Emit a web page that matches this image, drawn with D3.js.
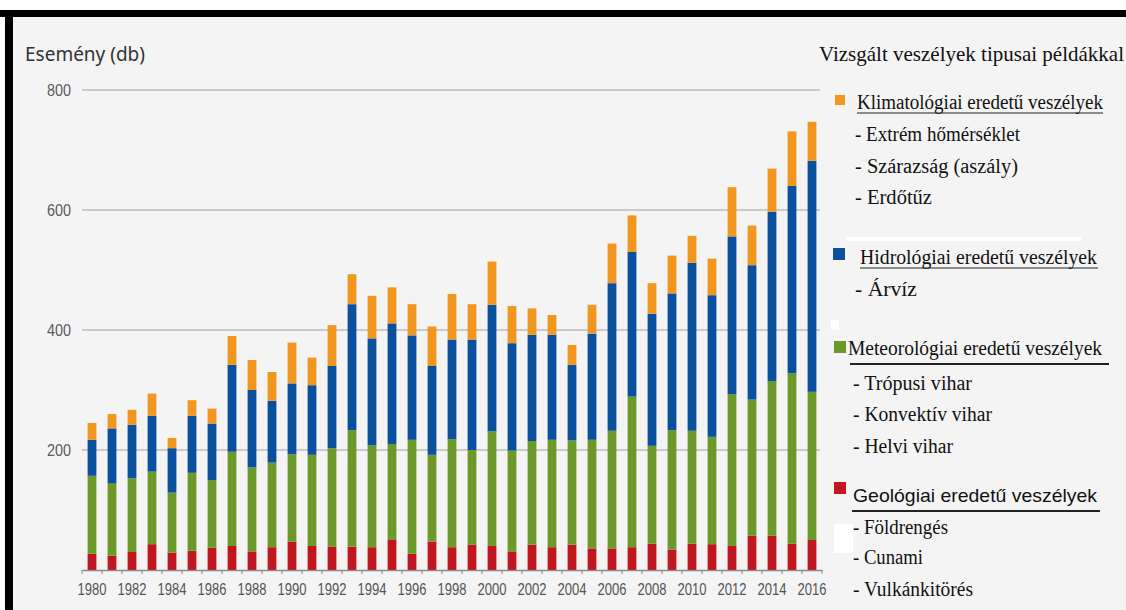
<!DOCTYPE html>
<html>
<head>
<meta charset="utf-8">
<script src="https://cdn.jsdelivr.net/npm/d3@7"></script>
<style>
  body { margin: 0; background: #fff; }
  svg { display: block; }
</style>
</head>
<body>
<div id="chart"></div>
<script>
var w = 1126;
var h = 610;

// data (events per year, per hazard type)
var years = d3.range(1980, 2017);
var geologic     = [27, 24, 30, 43, 29, 32, 37, 40, 31, 38, 47, 40, 39, 39, 38, 51, 27, 47, 38, 42, 40, 31, 42, 38, 42, 36, 36, 38, 44, 34, 44, 43, 40, 57, 57, 44, 50];
var meteorologic = [130, 120, 123, 121, 100, 130, 113, 157, 140, 141, 146, 152, 164, 194, 170, 159, 190, 145, 180, 158, 191, 168, 173, 179, 174, 181, 196, 251, 163, 199, 188, 179, 253, 227, 258, 284, 247];
var hydrologic   = [60, 92, 89, 93, 74, 95, 94, 145, 129, 103, 118, 116, 137, 210, 178, 201, 174, 148, 166, 184, 211, 179, 177, 175, 126, 177, 246, 241, 220, 228, 280, 236, 263, 224, 282, 312, 385];
var climatologic = [28, 24, 25, 37, 17, 26, 25, 48, 50, 48, 68, 46, 68, 50, 71, 60, 52, 66, 76, 59, 72, 62, 44, 33, 33, 48, 66, 61, 51, 63, 45, 61, 82, 66, 72, 91, 65];

var yTicks = [200, 400, 600, 800];
var keys = ["geo", "met", "hyd", "cli"];
var colors = { geo: "#c0161f", met: "#6b9a2b", hyd: "#0b4f9f", cli: "#f1971f" };

var legendItems = [
    { key: "cli", title: "Klimatológiai eredetű veszélyek", examples: ["- Extrém hőmérséklet", "- Szárazság (aszály)", "- Erdőtűz"] },
    { key: "hyd", title: "Hidrológiai eredetű veszélyek", examples: ["- Árvíz"] },
    { key: "met", title: "Meteorológiai eredetű veszélyek", examples: ["- Trópusi vihar", "- Konvektív vihar", "- Helvi vihar"] },
    { key: "geo", title: "Geológiai eredetű veszélyek", examples: ["- Földrengés", "- Cunami", "- Vulkánkitörés"] }
];

var table = years.map(function(y, i) {
    return { year: y, geo: geologic[i], met: meteorologic[i], hyd: hydrologic[i], cli: climatologic[i] };
});

var svg = d3.select("#chart")
            .append("svg")
            .attr("width", w)
            .attr("height", h);

// page background and black frame
svg.append("rect").attr("width", w).attr("height", h).attr("fill", "#fff");
svg.append("rect").attr("x", 13).attr("y", 17).attr("width", w - 13).attr("height", h - 17).attr("fill", "#f4f4f4");
svg.append("rect").attr("x", 0).attr("y", 10).attr("width", w).attr("height", 7).attr("fill", "#000");
svg.append("rect").attr("x", 5).attr("y", 10).attr("width", 8).attr("height", h - 10).attr("fill", "#000");
// white patches left over from the pasted legend
svg.append("rect").attr("x", 846).attr("y", 237).attr("width", 235).attr("height", 4).attr("fill", "#fff");
svg.append("rect").attr("x", 834).attr("y", 524).attr("width", 19).attr("height", 29).attr("fill", "#fff");
svg.append("rect").attr("x", 831).attr("y", 320).attr("width", 8).attr("height", 10).attr("fill", "#fff");

var xScale = d3.scaleBand()
    .domain(years)
    .range([82, 822])
    .paddingInner(0.56)
    .paddingOuter(0.28);
var yScale = d3.scaleLinear()
    .domain([0, 800])
    .range([570, 90]);

// grid lines
svg.append("g")
    .selectAll("line")
    .data(yTicks)
    .enter()
    .append("line")
    .attr("x1", 82)
    .attr("x2", 820)
    .attr("y1", (d) => yScale(d))
    .attr("y2", (d) => yScale(d))
    .attr("stroke", "#cacaca")
    .attr("stroke-width", 2);

// y labels (the picture is squeezed sideways, so the digits are narrow)
svg.append("g")
    .selectAll("text")
    .data(yTicks)
    .enter()
    .append("text")
    .attr("x", 71)
    .attr("y", (d) => yScale(d) + 6)
    .attr("text-anchor", "end")
    .attr("font-family", "Liberation Sans, Arial, sans-serif")
    .attr("font-size", 16)
    .attr("textLength", 24)
    .attr("lengthAdjust", "spacingAndGlyphs")
    .attr("fill", "#5a5a5a")
    .text((d) => d);

svg.append("text")
    .attr("x", 25)
    .attr("y", 61)
    .attr("font-family", "Noto Sans, sans-serif")
    .attr("font-size", 20)
    .attr("textLength", 120)
    .attr("lengthAdjust", "spacingAndGlyphs")
    .attr("fill", "#333")
    .text("Esemény (db)");

// stacked bars
var stack = d3.stack().keys(keys);
var series = stack(table);

svg.append("g")
    .selectAll("g")
    .data(series)
    .enter()
    .append("g")
    .attr("fill", (d) => colors[d.key])
    .selectAll("rect")
    .data((d) => d)
    .enter()
    .append("rect")
    .attr("x", (d) => xScale(d.data.year))
    .attr("y", (d) => yScale(d[1]))
    .attr("width", xScale.bandwidth())
    .attr("height", (d) => yScale(d[0]) - yScale(d[1]));

// x axis
var xAxis = d3.axisBottom(xScale)
    .tickValues(years.filter((d) => d % 2 === 0))
    .tickSize(0)
    .tickPadding(14);
var gx = svg.append("g")
    .attr("transform", "translate(0, 570)")
    .call(xAxis);
gx.select(".domain").attr("stroke", "#8a8a8a").attr("stroke-width", 1.5);
gx.selectAll("text")
    .attr("font-family", "Liberation Sans, Arial, sans-serif")
    .attr("font-size", 16)
    .attr("textLength", 29)
    .attr("lengthAdjust", "spacingAndGlyphs")
    .attr("fill", "#555");

// small ticks between bars
svg.append("g")
    .selectAll("line")
    .data(years.concat([2017]))
    .enter()
    .append("line")
    .attr("x1", (d) => xScale(d) === undefined ? 822 : xScale(d) - xScale.step() * 0.28)
    .attr("x2", (d) => xScale(d) === undefined ? 822 : xScale(d) - xScale.step() * 0.28)
    .attr("y1", 570)
    .attr("y2", 574)
    .attr("stroke", "#8a8a8a")
    .attr("stroke-width", 1);

// legend
var serif = "Liberation Serif, Times New Roman, serif";
svg.append("text")
    .attr("x", 819)
    .attr("y", 61)
    .attr("font-family", serif)
    .attr("font-size", 21)
    .attr("textLength", 305)
    .attr("lengthAdjust", "spacingAndGlyphs")
    .attr("fill", "#111")
    .text("Vizsgált veszélyek tipusai példákkal");

var legendPos = [
    { sq: [835, 95, 10], tx: 857, ty: 109, tw: 246, ul: [857, 1103, 113], ex: 855, ey: [141, 173, 204], ew: [165, 163, 77], font: serif },
    { sq: [833, 248, 12], tx: 860, ty: 264, tw: 237, ul: [860, 1098, 268], ex: 855, ey: [296], ew: [62], font: serif },
    { sq: [834, 341, 12], tx: 848, ty: 355, tw: 254, ul: [850, 1109, 364], ex: 853, ey: [390, 421, 453], ew: [119, 139, 100], font: serif },
    { sq: [834, 482, 12], tx: 853, ty: 502, tw: 244, ul: [852, 1100, 511], ex: 853, ey: [534, 564, 596], ew: [95, 70, 120], font: "Liberation Sans, Arial, sans-serif" }
];

var lg = svg.append("g")
    .selectAll("g")
    .data(legendItems)
    .enter()
    .append("g");

lg.append("rect")
    .attr("x", (d, i) => legendPos[i].sq[0])
    .attr("y", (d, i) => legendPos[i].sq[1])
    .attr("width", (d, i) => legendPos[i].sq[2])
    .attr("height", (d, i) => legendPos[i].sq[2])
    .attr("fill", (d) => colors[d.key]);

lg.append("text")
    .attr("x", (d, i) => legendPos[i].tx)
    .attr("y", (d, i) => legendPos[i].ty)
    .attr("font-family", (d, i) => legendPos[i].font)
    .attr("font-size", (d, i) => i === 3 ? 19 : 20)
    .attr("textLength", (d, i) => legendPos[i].tw)
    .attr("lengthAdjust", "spacingAndGlyphs")
    .attr("fill", "#111")
    .text((d) => d.title);

lg.append("line")
    .attr("x1", (d, i) => legendPos[i].ul[0])
    .attr("x2", (d, i) => legendPos[i].ul[1])
    .attr("y1", (d, i) => legendPos[i].ul[2])
    .attr("y2", (d, i) => legendPos[i].ul[2])
    .attr("stroke", "#222")
    .attr("stroke-width", (d, i) => i >= 2 ? 2 : 1.2);

lg.each(function(d, i) {
    d3.select(this).selectAll(".ex")
        .data(d.examples)
        .enter()
        .append("text")
        .attr("class", "ex")
        .attr("x", legendPos[i].ex)
        .attr("y", (e, j) => legendPos[i].ey[j])
        .attr("font-family", serif)
        .attr("font-size", 20)
        .attr("textLength", (e, j) => legendPos[i].ew[j])
        .attr("lengthAdjust", "spacingAndGlyphs")
        .attr("fill", "#111")
        .text((e) => e);
});
</script>
</body>
</html>
